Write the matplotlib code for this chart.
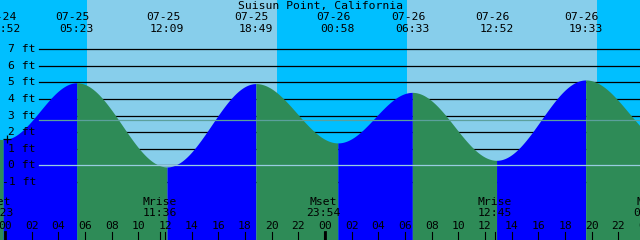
import numpy as np
import pandas as pd
import matplotlib
matplotlib.use("Agg")
from matplotlib import pyplot as plt
import matplotlib.transforms as mtransforms

# tide extremes (date time, ft)
tide_times = ["07-24 17:40", "07-24 23:52", "07-25 05:23", "07-25 12:09", "07-25 18:49",
              "07-26 00:58", "07-26 06:33", "07-26 12:52", "07-26 19:33", "07-27 02:00"]
tide_levels = [4.9, 1.55, 4.98, -0.1, 4.93, 1.35, 4.4, 0.3, 5.15, 1.2]

# sunrise / sunset
sunrise = ["07-25 06:09", "07-26 06:08"]
sunset = ["07-25 20:24", "07-26 20:24"]

# moon events
moon_names = ["Mset", "Mrise", "Mset", "Mrise", "Mset"]
moon_times = ["07-24 23:23", "07-25 11:36", "07-25 23:54", "07-26 12:45", "07-27 00:24"]

ft_levels = [7, 6, 5, 4, 3, 2, 1, 0, -1]
msl = 2.72
mark = ("07-25 00:08", 1.57)

title = "Suisun Point, California"


def hrs(s):
    return (pd.Timestamp("2000-" + s) - pd.Timestamp("2000-07-25 00:00")).total_seconds() / 3600


T = np.array([hrs(s) for s in tide_times])
L = np.array(tide_levels)

x0, x1 = -0.375, 47.625
y0, y1 = -4.51, 9.975

fig = plt.figure(figsize=(6.4, 2.4), dpi=100)
ax = fig.add_axes([0, 0, 1, 1])
ax.set_xlim(x0, x1)
ax.set_ylim(y0, y1)
ax.axis("off")

day_sky = "#87CEEB"
night_sky = "#00BFFF"
rise_col = "#0000FF"
fall_col = "#2E8B57"

# sky
ax.axvspan(x0, x1, color=night_sky, zorder=0, lw=0)
for r, s in zip(sunrise, sunset):
    ax.axvspan(hrs(r), hrs(s), color=day_sky, zorder=0.5, lw=0)

# grid lines (under the water)
for v in ft_levels:
    ax.axhline(v, xmin=39 / 640, xmax=1, color="black", lw=0.9, zorder=1)

# water
tt = np.union1d(np.linspace(x0 - 1, x1 + 1, 3000), T)
hh = np.zeros_like(tt)
for i in range(len(T) - 1):
    m = (tt >= T[i]) & (tt <= T[i + 1])
    ph = (tt[m] - T[i]) / (T[i + 1] - T[i])
    hh[m] = L[i + 1] + (L[i] - L[i + 1]) * (1 + np.cos(np.pi * ph)) / 2
for i in range(len(T) - 1):
    m = (tt >= T[i]) & (tt <= T[i + 1])
    col = rise_col if L[i + 1] > L[i] else fall_col
    ax.fill_between(tt[m], y0, hh[m], color=col, lw=0, zorder=2)

# mean sea level and datum lines
ax.axhline(msl, xmin=39 / 640, xmax=1, color="#5CA09C", lw=0.9, zorder=3)
ax.axhline(0, xmin=39 / 640, xmax=1, color="#98CCE0", lw=0.9, zorder=3)

ax.plot(hrs(mark[0]), mark[1], marker="+", color="black", ms=6, mew=0.9, zorder=4)

fnt = dict(family="DejaVu Sans Mono", fontsize=8.2, color="black", zorder=5)
bt = mtransforms.blended_transform_factory(ax.transData, ax.transAxes)
yt = mtransforms.blended_transform_factory(ax.transAxes, ax.transData)


def ypx(p):
    return 1 - p / 240


# y labels
for v in ft_levels:
    ax.text(36 / 640, v, f"{v} ft", transform=yt, ha="right", va="center", **fnt)

# title
ax.text(0.5, ypx(5.5), title, transform=ax.transAxes, ha="center", va="center", **fnt)

# tide labels (date sits a few px left of the time)
for s in tide_times:
    t = hrs(s)
    if t < x0 - 2 or t > x1 + 2:
        continue
    d, hm = s.split()
    ax.text(t - 0.3, ypx(17), d, transform=bt, ha="center", va="center", **fnt)
    ax.text(t, ypx(29), hm, transform=bt, ha="center", va="center", **fnt)

# moon labels and ticks
for n, s in zip(moon_names, moon_times):
    t = hrs(s)
    ax.text(t, ypx(202), n, transform=bt, ha="center", va="center", **fnt)
    ax.text(t, ypx(213), s.split()[1], transform=bt, ha="center", va="center", **fnt)
    ax.plot([t, t], [0, 8 / 240], transform=bt, color="black", lw=0.8, zorder=5)

# hour labels and ticks
for h in range(0, 50, 2):
    ax.text(h, ypx(226), f"{h % 24:02d}", transform=bt, ha="center", va="center", **fnt)
    lw = 2.0 if h % 24 == 0 else 0.8
    ax.plot([h, h], [0, 8 / 240], transform=bt, color="black", lw=lw, zorder=5)

fig.savefig("out.png", dpi=100)
